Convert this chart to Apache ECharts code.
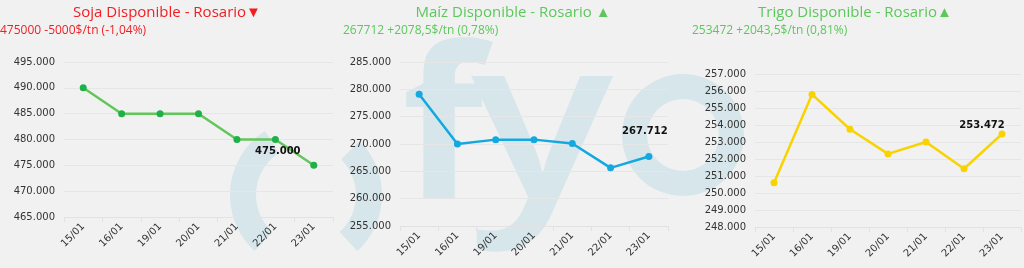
<!DOCTYPE html>
<html><head><meta charset="utf-8">
<script src="https://cdn.jsdelivr.net/npm/echarts@6/dist/echarts.min.js"></script>
<style>html,body{margin:0;padding:0;background:#f1f1f1}#c{width:1024px;height:268px}</style>
</head><body><div id="c"></div>
<script>
// ---- data ----
const categories = ['15/01','16/01','19/01','20/01','21/01','22/01','23/01'];
const sojaValues = [490000, 485000, 485000, 485000, 480000, 480000, 475000];
const maizValues = [279100, 270000, 270800, 270800, 270100, 265633.5, 267712];
const trigoValues = [250600, 255800, 253750, 252300, 253000, 251428.5, 253472];
const sojaTicks = [465000, 470000, 475000, 480000, 485000, 490000, 495000];
const maizTicks = [255000, 260000, 265000, 270000, 275000, 280000, 285000];
const trigoTicks = [248000, 249000, 250000, 251000, 252000, 253000, 254000, 255000, 256000, 257000];
const titles = ['Soja Disponible - Rosario\u25BC', 'Ma\u00EDz Disponible - Rosario \u25B2', 'Trigo Disponible - Rosario\u25B2'];
const subtitles = ['475000 -5000$/tn (-1,04%)', '267712 +2078,5$/tn (0,78%)', '253472 +2043,5$/tn (0,81%)'];

// ---- layout / style ----
const panels = [
  {values: sojaValues, ticks: sojaTicks, grid: {left: 64, width: 269, top: 62, height: 155},
   line: '#62c65a', marker: '#1fb04a', titleColor: '#f01e23', titleX: 167, subX: 0,
   labelOffset: [-36, 0]},
  {values: maizValues, ticks: maizTicks, grid: {left: 400, width: 268, top: 62, height: 164},
   line: '#13a9e0', marker: '#13a9e0', titleColor: '#5cc85c', titleX: 513, subX: 343,
   labelOffset: [-4, -12]},
  {values: trigoValues, ticks: trigoTicks, grid: {left: 755, width: 266, top: 74, height: 153},
   line: '#f8d300', marker: '#f8d300', titleColor: '#5cc85c', titleX: 855, subX: 692,
   labelOffset: [-20, 5]}
];

function fmt(v) { return String(Math.round(v)).replace(/\B(?=(\d{3})+(?!\d))/g, '.'); }
const axisFont = 'DejaVu Sans';
const wm = '#d6e6eb';

const option = {
  animation: false,
  backgroundColor: '#f1f1f1',
  grid: panels.map(p => Object.assign({containLabel: false}, p.grid)),
  xAxis: panels.map((p, i) => ({
    type: 'category', gridIndex: i, data: categories, boundaryGap: true,
    axisLine: {lineStyle: {color: '#e2e2e2'}},
    axisTick: {show: true, length: 5, lineStyle: {color: '#e2e2e2'}},
    axisLabel: {rotate: 45, interval: 0, color: '#333', fontSize: 10, fontFamily: axisFont, margin: 8}
  })),
  yAxis: panels.map((p, i) => ({
    type: 'value', gridIndex: i,
    min: p.ticks[0], max: p.ticks[p.ticks.length - 1], interval: p.ticks[1] - p.ticks[0],
    axisLine: {show: false}, axisTick: {show: false},
    splitLine: {lineStyle: {color: '#e6e6e6'}},
    axisLabel: {formatter: fmt, color: '#333', fontSize: 10, fontFamily: axisFont, margin: 9}
  })),
  series: panels.map((p, i) => ({
    type: 'line', xAxisIndex: i, yAxisIndex: i, z: 3,
    symbol: 'circle', symbolSize: 7,
    lineStyle: {color: p.line, width: 2.5},
    itemStyle: {color: p.marker},
    data: p.values.map((v, j) => j === p.values.length - 1 ? {
      value: v,
      label: {show: true, position: 'top', offset: p.labelOffset, formatter: () => fmt(v),
              color: '#111', fontSize: 10, fontWeight: 'bold', fontFamily: axisFont}
    } : v)
  })),
  graphic: [
    // watermark logo
    {type: 'sector', z: -10, silent: true, shape: {cx: 306, cy: 195, r: 76, r0: 50, startAngle: Math.PI - 0.83, endAngle: Math.PI + 1.0}, style: {fill: wm}},
    {type: 'sector', z: -10, silent: true, shape: {cx: 306, cy: 195, r: 76, r0: 50, startAngle: 2 * Math.PI - 0.79, endAngle: 2 * Math.PI + 0.83}, style: {fill: wm}},
    {type: 'text', z: -10, silent: true, x: 402, y: 243, style: {text: 'f', fill: wm, font: 'bold 210px "Open Sans"', align: 'left', verticalAlign: 'bottom'}},
    {type: 'text', z: -10, silent: true, x: 471, y: 246, scaleX: 1.18, style: {text: 'y', fill: wm, font: '600 225px "Open Sans"', align: 'left', verticalAlign: 'bottom'}},
    {type: 'sector', z: -10, silent: true, shape: {cx: 683, cy: 135, r: 61, r0: 36, startAngle: 0, endAngle: Math.PI * 2}, style: {fill: wm}}
  ].concat(panels.map((p, i) => ({
    type: 'text', x: p.titleX, y: 13, z: 10,
    style: {text: titles[i], fill: p.titleColor, font: '15px "Open Sans"', align: 'center', verticalAlign: 'middle'}
  }))).concat(panels.map((p, i) => ({
    type: 'text', x: p.subX, y: 31, z: 10,
    style: {text: subtitles[i], fill: p.titleColor, font: '12px "Open Sans"', align: 'left', verticalAlign: 'middle'}
  })))
};

const chart = echarts.init(document.getElementById('c'), null, {renderer: 'canvas'});
chart.setOption(option);
</script>
</body></html>
